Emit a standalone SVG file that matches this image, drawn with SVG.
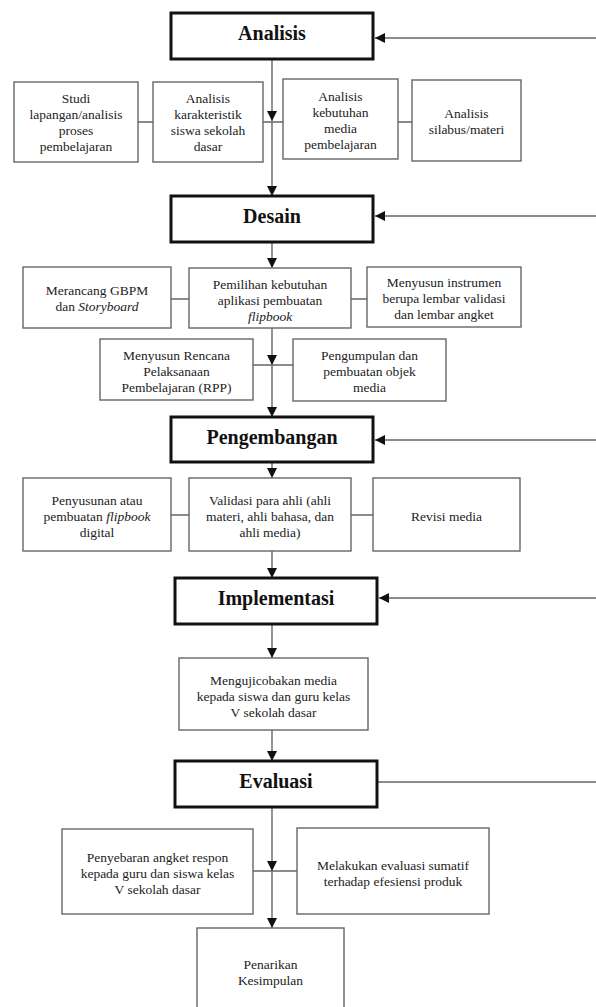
<svg xmlns="http://www.w3.org/2000/svg" width="596" height="1007" viewBox="0 0 596 1007">
<style>
.phase{fill:#fff;stroke:#111;stroke-width:3}
.box{fill:#fff;stroke:#666;stroke-width:1.4}
.pt{font-family:"Liberation Serif","Times New Roman",serif;font-weight:bold;font-size:20px;fill:#111;text-anchor:middle}
.t{font-family:"Liberation Serif","Times New Roman",serif;font-size:13.5px;fill:#222;text-anchor:middle}
.ln{fill:none;stroke:#666;stroke-width:1.4}
</style>
<defs>
<marker id="ah" markerUnits="userSpaceOnUse" markerWidth="10" markerHeight="10" viewBox="0 0 10 10" refX="10" refY="5" orient="auto">
<path d="M0,0 L10,5 L0,10 Z" fill="#111"/>
</marker>
</defs>
<rect width="596" height="1007" fill="#fff"/>

<g id="connectors">
<!-- main spine -->
<path class="ln" d="M272,59 V121" marker-end="url(#ah)"/>
<path class="ln" d="M272,122 V196" marker-end="url(#ah)"/>
<path class="ln" d="M138,122 H153 M263,122 H283 M398,122 H412"/>
<path class="ln" d="M272,242 V268" marker-end="url(#ah)"/>
<path class="ln" d="M171,299 H189 M351,299 H367"/>
<path class="ln" d="M272,328 V365" marker-end="url(#ah)"/>
<path class="ln" d="M253,365 H293"/>
<path class="ln" d="M272,365 V417" marker-end="url(#ah)"/>
<path class="ln" d="M272,462 V478" marker-end="url(#ah)"/>
<path class="ln" d="M171,515 H189 M351,515 H373"/>
<path class="ln" d="M272,551 V578" marker-end="url(#ah)"/>
<path class="ln" d="M272,624 V658" marker-end="url(#ah)"/>
<path class="ln" d="M272,730 V761" marker-end="url(#ah)"/>
<path class="ln" d="M272,807 V871" marker-end="url(#ah)"/>
<path class="ln" d="M253,871 H297"/>
<path class="ln" d="M272,871 V928" marker-end="url(#ah)"/>
<!-- feedback lines from right -->
<path class="ln" d="M596,38 H375" marker-end="url(#ah)"/>
<path class="ln" d="M596,216 H375" marker-end="url(#ah)"/>
<path class="ln" d="M596,440 H375" marker-end="url(#ah)"/>
<path class="ln" d="M596,598 H379" marker-end="url(#ah)"/>
<path class="ln" d="M377,782 H596"/>
</g>

<g id="analisis"><rect class="phase" x="171" y="13" width="202" height="46"/><text class="pt" x="272" y="40">Analisis</text></g>
<g id="studi"><rect class="box" x="14" y="82" width="124" height="80"/><text class="t" x="76" y="102.5">Studi</text><text class="t" x="76" y="118.5">lapangan/analisis</text><text class="t" x="76" y="134.5">proses</text><text class="t" x="76" y="150.5">pembelajaran</text></g>
<g id="karakteristik"><rect class="box" x="153" y="82" width="110" height="80"/><text class="t" x="208" y="102.5">Analisis</text><text class="t" x="208" y="118.5">karakteristik</text><text class="t" x="208" y="134.5">siswa sekolah</text><text class="t" x="208" y="150.5">dasar</text></g>
<g id="kebutuhan"><rect class="box" x="283" y="79" width="115" height="80"/><text class="t" x="340.5" y="101">Analisis</text><text class="t" x="340.5" y="117">kebutuhan</text><text class="t" x="340.5" y="133">media</text><text class="t" x="340.5" y="149">pembelajaran</text></g>
<g id="silabus"><rect class="box" x="412" y="80" width="109" height="81"/><text class="t" x="466.5" y="118">Analisis</text><text class="t" x="466.5" y="134">silabus/materi</text></g>

<g id="desain"><rect class="phase" x="171" y="196" width="202" height="46"/><text class="pt" x="272" y="223">Desain</text></g>
<g id="gbpm"><rect class="box" x="23" y="267" width="148" height="61"/><text class="t" x="97" y="294.5">Merancang GBPM</text><text class="t" x="97" y="310.5">dan <tspan font-style="italic">Storyboard</tspan></text></g>
<g id="pemilihan"><rect class="box" x="189" y="268" width="162" height="60"/><text class="t" x="270" y="288.5">Pemilihan kebutuhan</text><text class="t" x="270" y="304.5">aplikasi pembuatan</text><text class="t" x="270" y="320.5" font-style="italic">flipbook</text></g>
<g id="instrumen"><rect class="box" x="367" y="267" width="154" height="60"/><text class="t" x="444" y="286.5">Menyusun instrumen</text><text class="t" x="444" y="302.5">berupa lembar validasi</text><text class="t" x="444" y="318.5">dan lembar angket</text></g>
<g id="rpp"><rect class="box" x="100" y="339" width="153" height="61"/><text class="t" x="176.5" y="359.5">Menyusun Rencana</text><text class="t" x="176.5" y="375.5">Pelaksanaan</text><text class="t" x="176.5" y="391.5">Pembelajaran (RPP)</text></g>
<g id="pengumpulan"><rect class="box" x="293" y="339" width="153" height="62"/><text class="t" x="369.5" y="359.5">Pengumpulan dan</text><text class="t" x="369.5" y="375.5">pembuatan objek</text><text class="t" x="369.5" y="391.5">media</text></g>

<g id="pengembangan"><rect class="phase" x="171" y="417" width="202" height="45"/><text class="pt" x="272" y="444">Pengembangan</text></g>
<g id="penyusunan"><rect class="box" x="23" y="478" width="148" height="73"/><text class="t" x="97" y="504.5">Penyusunan atau</text><text class="t" x="97" y="520.5">pembuatan <tspan font-style="italic">flipbook</tspan></text><text class="t" x="97" y="536.5">digital</text></g>
<g id="validasi"><rect class="box" x="189" y="478" width="162" height="73"/><text class="t" x="270" y="504.5">Validasi para ahli (ahli</text><text class="t" x="270" y="520.5">materi, ahli bahasa, dan</text><text class="t" x="270" y="536.5">ahli media)</text></g>
<g id="revisi"><rect class="box" x="373" y="478" width="147" height="73"/><text class="t" x="446.5" y="520.5">Revisi media</text></g>

<g id="implementasi"><rect class="phase" x="175" y="578" width="202" height="46"/><text class="pt" x="276" y="605">Implementasi</text></g>
<g id="ujicoba"><rect class="box" x="179" y="658" width="189" height="72"/><text class="t" x="273.5" y="684.5">Mengujicobakan media</text><text class="t" x="273.5" y="700.5">kepada siswa dan guru kelas</text><text class="t" x="273.5" y="716.5">V sekolah dasar</text></g>

<g id="evaluasi"><rect class="phase" x="175" y="761" width="202" height="46"/><text class="pt" x="276" y="788">Evaluasi</text></g>
<g id="penyebaran"><rect class="box" x="62" y="829" width="191" height="85"/><text class="t" x="157.5" y="861.5">Penyebaran angket respon</text><text class="t" x="157.5" y="877.5">kepada guru dan siswa kelas</text><text class="t" x="157.5" y="893.5">V sekolah dasar</text></g>
<g id="sumatif"><rect class="box" x="297" y="828" width="192" height="86"/><text class="t" x="393" y="869.5">Melakukan evaluasi sumatif</text><text class="t" x="393" y="885.5">terhadap efesiensi produk</text></g>
<g id="kesimpulan"><rect class="box" x="197" y="928" width="147" height="90"/><text class="t" x="270.5" y="968.5">Penarikan</text><text class="t" x="270.5" y="984.5">Kesimpulan</text></g>
</svg>
